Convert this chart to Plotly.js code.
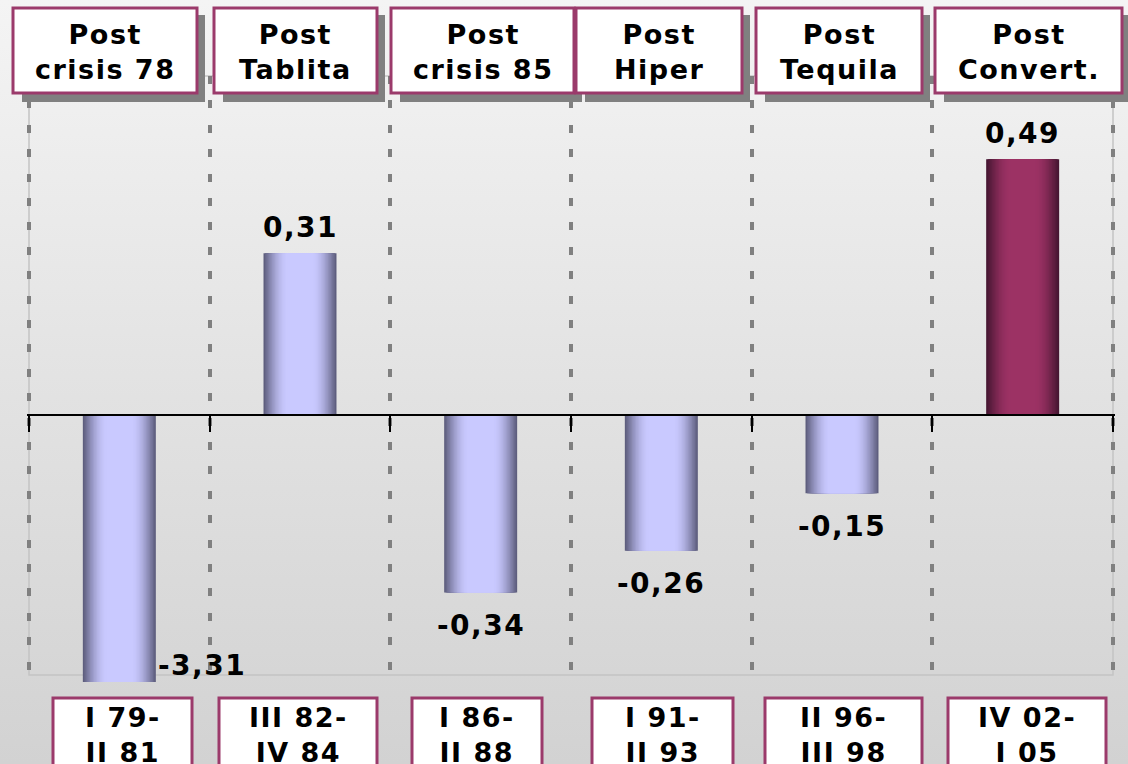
<!DOCTYPE html>
<html>
<head>
<meta charset="utf-8">
<script src="https://cdn.plot.ly/plotly-3.0.1.min.js"></script>
<style>
  html, body { margin: 0; padding: 0; }
  body {
    width: 1128px; height: 764px; overflow: hidden;
    background: linear-gradient(to bottom, #f4f4f4 0%, #e2e2e2 52%, #d2d2d2 100%);
  }
  #chart { width: 1128px; height: 764px; }
  .annotation-text { letter-spacing: 1.5px; }
</style>
</head>
<body>
<div id="chart"></div>
<script>
// Periods and values
const periods = ['Post<br>crisis 78', 'Post<br>Tablita', 'Post<br>crisis 85', 'Post<br>Hiper', 'Post<br>Tequila', 'Post<br>Convert.'];
const ranges = ['I 79-<br>II 81', 'III 82-<br>IV 84', 'I 86-<br>II 88', 'I 91-<br>II 93', 'II 96-<br>III 98', 'IV 02-<br>I 05'];
const values = [-3.31, 0.31, -0.34, -0.26, -0.15, 0.49];

// Page geometry
const W = 1128, H = 764;
const M = { l: 27, r: 13, t: 76, b: 82 };
const PW = W - M.l - M.r, PH = H - M.t - M.b;
const px2x = p => (p - M.l) / PW;
const py2y = p => (H - M.b - p) / PH;

const Y_MIN = -0.5115, Y_MAX = 0.6494;
const X_PAD = 2 / (1084 / 6);          // 2px on each side so the outer grid lines are kept
const BAR_W = 0.404;

// Bar shading: edge colour -> centre colour, per bar
const edgeCols = ['#5e5e7e', '#5e5e7e', '#5e5e7e', '#5e5e7e', '#5e5e7e', '#461632'];
const midCols  = ['#c9c9ff', '#c9c9ff', '#c9c9ff', '#c9c9ff', '#c9c9ff', '#9c3264'];

function hex2rgb(h) { return [1, 3, 5].map(i => parseInt(h.substr(i, 2), 16)); }
function mix(a, b, t) {
  const A = hex2rgb(a), B = hex2rgb(b);
  return 'rgb(' + A.map((v, i) => Math.round(v + (B[i] - v) * t)).join(',') + ')';
}

const xs = values.map((_, i) => i);
const traces = [];
const LAYERS = 18;
for (let k = 0; k < LAYERS; k++) {
  const f = k / (LAYERS - 1);
  const t = Math.sin(f * Math.PI / 2);
  traces.push({
    type: 'bar',
    x: xs,
    y: values,
    width: BAR_W * (1 - 0.66 * f),
    marker: { color: edgeCols.map((e, i) => mix(e, midCols[i], t)), line: { width: 0 } },
    hoverinfo: 'skip',
    showlegend: false
  });
}

const fmt = v => v.toFixed(2).replace('.', ',');
const labelFont = { family: 'DejaVu Sans', size: 28, color: '#000', weight: 'bold' };

const annotations = [];
values.forEach((v, i) => {
  if (v < Y_MIN) {
    annotations.push({ xref: 'x', yref: 'paper', x: i + 0.458, y: py2y(665), text: fmt(v),
      showarrow: false, font: labelFont, xanchor: 'center', yanchor: 'middle' });
  } else {
    annotations.push({ xref: 'x', yref: 'y', x: i, y: v, text: fmt(v), showarrow: false,
      font: labelFont, xanchor: 'center', yanchor: 'middle', yshift: v >= 0 ? 26 : -33 });
  }
});

// Header and footer boxes (pixel extents)
const topBoxes = [[13, 197], [214, 377], [391, 574], [576, 742], [756, 922], [935, 1122]];
const botBoxes = [[53, 192], [219, 377], [412, 542], [592, 733], [765, 922], [948, 1106]];
const boxLine = '#9b3a6b';

const shapes = [
  { type: 'rect', xref: 'x', yref: 'paper', x0: -0.5, x1: 5.5, y0: py2y(675), y1: 1,
    line: { color: '#c4c4c4', width: 1.5 }, layer: 'below' }
];
topBoxes.forEach(([a, b], i) => {
  shapes.push({ type: 'rect', xref: 'paper', yref: 'paper', x0: px2x(a + 9), x1: px2x(b + 8),
    y0: py2y(102), y1: py2y(15), fillcolor: '#808080', line: { width: 0 }, layer: 'above' });
  shapes.push({ type: 'rect', xref: 'paper', yref: 'paper', x0: px2x(a), x1: px2x(b),
    y0: py2y(93), y1: py2y(8), fillcolor: '#ffffff', line: { color: boxLine, width: 3 }, layer: 'above' });
  annotations.push({ xref: 'paper', yref: 'paper', x: px2x((a + b) / 2), y: py2y(52.5),
    text: periods[i], showarrow: false, xanchor: 'center', yanchor: 'middle',
    font: { family: 'DejaVu Sans', size: 27, color: '#000', weight: 'bold' } });
});
botBoxes.forEach(([a, b], i) => {
  shapes.push({ type: 'rect', xref: 'paper', yref: 'paper', x0: px2x(a), x1: px2x(b),
    y0: py2y(800), y1: py2y(698), fillcolor: '#ffffff', line: { color: boxLine, width: 3 }, layer: 'above' });
  annotations.push({ xref: 'paper', yref: 'paper', x: px2x((a + b) / 2), y: py2y(735),
    text: ranges[i], showarrow: false, xanchor: 'center', yanchor: 'middle',
    font: { family: 'DejaVu Sans', size: 27, color: '#000', weight: 'bold' } });
});

const bounds = [-0.5, 0.5, 1.5, 2.5, 3.5, 4.5, 5.5];

const layout = {
  width: W, height: H,
  margin: M,
  paper_bgcolor: 'rgba(0,0,0,0)',
  plot_bgcolor: 'rgba(0,0,0,0)',
  barmode: 'overlay',
  showlegend: false,
  xaxis: {
    type: 'linear', range: [-0.5 - X_PAD, 5.5 + X_PAD], fixedrange: true,
    tickmode: 'array', tickvals: bounds, showticklabels: false,
    ticks: 'outside', ticklen: 16, tickwidth: 2, tickcolor: '#000',
    showline: true, linecolor: '#000', linewidth: 2,
    anchor: 'free', position: (0 - Y_MIN) / (Y_MAX - Y_MIN),
    showgrid: true, gridcolor: '#808080', gridwidth: 4, griddash: '8px,16.4px',
    zeroline: false
  },
  yaxis: {
    range: [Y_MIN, Y_MAX], fixedrange: true,
    showgrid: false, zeroline: false, showticklabels: false, ticks: '', showline: false
  },
  shapes: shapes,
  annotations: annotations
};

Plotly.newPlot('chart', traces, layout, { displayModeBar: false, staticPlot: true });
</script>
</body>
</html>
